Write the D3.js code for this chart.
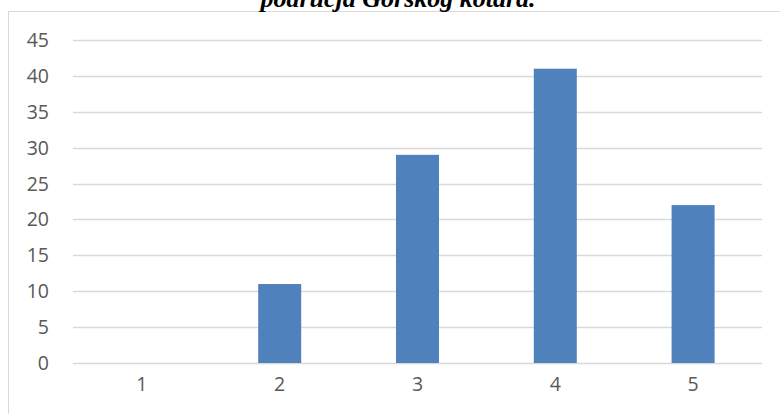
<!DOCTYPE html>
<html>
<head>
<meta charset="utf-8">
<script src="https://cdn.jsdelivr.net/npm/d3@7"></script>
<style>
	body { margin: 0; background: #fff; }
	svg { display: block; }
</style>
</head>
<body>
<div id="chart"></div>
<script>
var WIDTH = 780;
var HEIGHT = 414;

var categories = ['1', '2', '3', '4', '5'];
var values = [0, 11, 29, 41, 22];
var yTicks = [0, 5, 10, 15, 20, 25, 30, 35, 40, 45];
var title = 'područja Gorskog kotara.';

var plot = { left: 73, right: 762, top: 40, bottom: 363 };

var svg = d3.select('#chart').append('svg')
	.attr('width', WIDTH)
	.attr('height', HEIGHT);

// chart frame, runs off the right and bottom edges
svg.append('rect')
	.attr('x', 8.5)
	.attr('y', 11.5)
	.attr('width', WIDTH)
	.attr('height', HEIGHT)
	.attr('fill', 'none')
	.attr('stroke', '#d9d9d9')
	.attr('stroke-width', 1);

// title, clipped at top like the source
svg.append('text')
	.attr('x', 398)
	.attr('y', 7)
	.attr('text-anchor', 'middle')
	.attr('font-family', '"Liberation Serif", serif')
	.attr('font-weight', 'bold')
	.attr('font-style', 'italic')
	.attr('font-size', 26)
	.attr('fill', '#000')
	.text(title);

var x = d3.scaleBand()
	.domain(categories)
	.range([plot.left, plot.right])
	.paddingInner(0.688)
	.paddingOuter(0.344);

var y = d3.scaleLinear()
	.domain([0, 45])
	.range([plot.bottom, plot.top]);

// gridlines
svg.append('g')
	.selectAll('line')
	.data(yTicks)
	.enter().append('line')
	.attr('x1', plot.left)
	.attr('x2', plot.right)
	.attr('y1', function(d) { return Math.round(y(d)) + 0.5; })
	.attr('y2', function(d) { return Math.round(y(d)) + 0.5; })
	.attr('stroke', '#d9d9d9')
	.attr('stroke-width', 1.5);

// y labels
svg.append('g')
	.selectAll('text')
	.data(yTicks)
	.enter().append('text')
	.attr('x', 49)
	.attr('y', function(d) { return y(d); })
	.attr('dy', '0.36em')
	.attr('text-anchor', 'end')
	.attr('font-family', '"Open Sans", sans-serif')
	.attr('font-size', 19.5)
	.attr('fill', '#595959')
	.text(function(d) { return d; });

// bars
svg.append('g')
	.selectAll('rect')
	.data(values)
	.enter().append('rect')
	.attr('x', function(d, i) { return x(categories[i]); })
	.attr('y', function(d) { return y(d); })
	.attr('width', x.bandwidth())
	.attr('height', function(d) { return y(0) - y(d); })
	.attr('fill', '#4f81bd');

// x labels
svg.append('g')
	.selectAll('text')
	.data(categories)
	.enter().append('text')
	.attr('x', function(d) { return x(d) + x.bandwidth() / 2; })
	.attr('y', 384)
	.attr('dy', '0.36em')
	.attr('text-anchor', 'middle')
	.attr('font-family', '"Open Sans", sans-serif')
	.attr('font-size', 19.5)
	.attr('fill', '#595959')
	.text(function(d) { return d; });
</script>
</body>
</html>
